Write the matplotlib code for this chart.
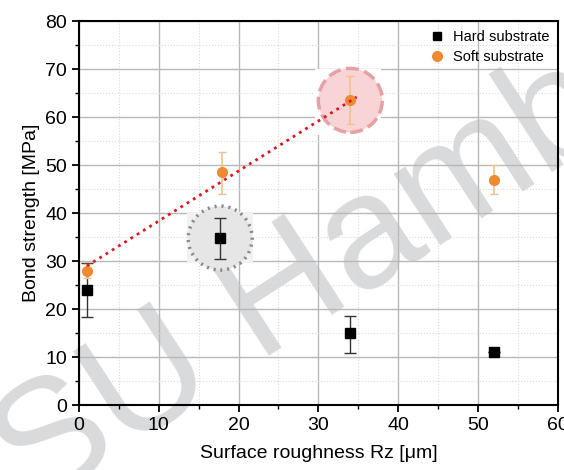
import matplotlib.pyplot as plt
from matplotlib.patches import Ellipse, Rectangle
from matplotlib.lines import Line2D
from matplotlib.ticker import MultipleLocator

plt.rcParams['font.family'] = ['Liberation Sans', 'DejaVu Sans']

# bond strength vs. surface roughness
rz_hard = [1.0, 17.7, 34.0, 52.0]
bond_hard = [24.0, 34.8, 15.0, 11.0]
err_hard_lo = [5.7, 4.3, 4.2, 0.0]
err_hard_hi = [5.6, 4.2, 3.6, 0.0]

rz_soft = [1.0, 17.9, 34.0, 52.0]
bond_soft = [27.9, 48.5, 63.5, 46.9]
err_soft_lo = [1.5, 4.5, 5.0, 2.9]
err_soft_hi = [1.5, 4.2, 5.0, 3.1]

# dotted trend between smooth and rough soft samples
trend_x = [1.0, 34.8]
trend_y = [29.0, 64.2]

fig = plt.figure(figsize=(5.64, 4.70), dpi=100)
fig.patch.set_facecolor('white')
ax = fig.add_axes([0.140, 0.138, 0.849, 0.817])
ax.patch.set_alpha(0)

ax.set_xlim(0, 60)
ax.set_ylim(0, 80)
ax.xaxis.set_major_locator(MultipleLocator(10))
ax.xaxis.set_minor_locator(MultipleLocator(5))
ax.yaxis.set_major_locator(MultipleLocator(10))
ax.yaxis.set_minor_locator(MultipleLocator(5))
ax.grid(True, which='major', color='#b8b8b8', lw=1.0)
ax.grid(True, which='minor', color='#d8d8d8', lw=0.8, ls=':')
ax.set_axisbelow(True)
for s in ax.spines.values():
    s.set_linewidth(1.5)
ax.tick_params(which='major', length=5, width=1.3, labelsize=14, direction='out')
ax.tick_params(which='minor', length=3, width=1.0, direction='out')

# circles are sized in pixels, so convert to data units per axis
px_x = 60 / (0.849 * 564)
px_y = 80 / (0.817 * 470)
r_px = 32

# highlight around the rough soft sample
ax.add_patch(Rectangle((29.6, 56.2), 8.2, 13.8, facecolor='white', edgecolor='none', zorder=1.5))
ax.add_patch(Ellipse((rz_soft[2], bond_soft[2]), 2 * r_px * px_x, 2 * r_px * px_y,
                     facecolor='#f7cdd0', edgecolor='#e2959a', lw=2.5, ls='--', alpha=0.85, zorder=1.6))

# highlight around the hard sample at Rz ~ 18
ax.add_patch(Rectangle((13.6, 29.8), 8.2, 10.4, facecolor='#f2f2f2', edgecolor='none', zorder=1.5))
ax.add_patch(Ellipse((rz_hard[1], bond_hard[1]), 2 * r_px * px_x, 2 * r_px * px_y,
                     facecolor='#e6e6e6', edgecolor='#8a8a8a', lw=2.5, ls=(0, (0.6, 1.4)), zorder=1.6))

ax.errorbar(rz_hard, bond_hard, yerr=[err_hard_lo, err_hard_hi], fmt='s', color='black',
            ecolor='#333333', elinewidth=1.0, capsize=4, ms=7, zorder=3)
ax.errorbar(rz_soft, bond_soft, yerr=[err_soft_lo, err_soft_hi], fmt='o', color='#ef8a32',
            ecolor='#f3c08f', elinewidth=1.2, capsize=3, ms=7, zorder=4)

ax.plot(trend_x, trend_y, ls=':', color='#e8141c', lw=2.0, zorder=5)

handles = [Line2D([], [], marker='s', color='black', ls='none', ms=6),
           Line2D([], [], marker='o', color='#ef8a32', ls='none', ms=7)]
ax.legend(handles, ['Hard substrate', 'Soft substrate'], loc='upper right', frameon=False,
          fontsize=10.5, handletextpad=0.5, handlelength=1.2, borderaxespad=0.2, labelspacing=0.4)

ax.set_xlabel('Surface roughness Rz [\u03bcm]', fontsize=14, labelpad=8)
ax.set_ylabel('Bond strength [MPa]', fontsize=14)

fig.text(0.06, -0.085, 'SU Hamburg', fontsize=116, color='#d9dadc',
         rotation=33, rotation_mode='anchor', ha='left', va='baseline', zorder=-1)

fig.savefig('out.png', dpi=100)
